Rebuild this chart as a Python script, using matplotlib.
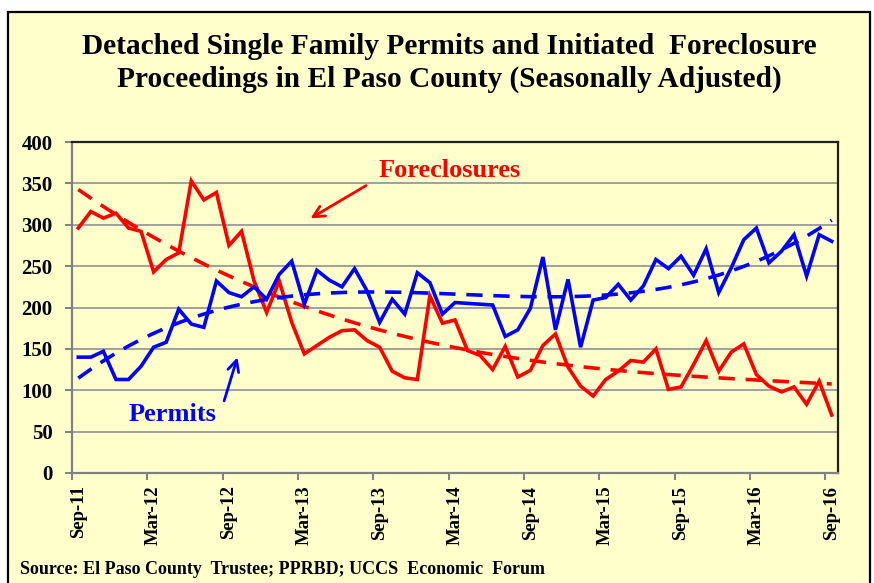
import numpy as np
import matplotlib
matplotlib.use("Agg")
import matplotlib.pyplot as plt
from matplotlib.patches import Rectangle

# monthly, Sep-11 .. Sep-16
meses = np.arange(61)
etiquetas = ["Sep-11", "Mar-12", "Sep-12", "Mar-13", "Sep-13", "Mar-14",
             "Sep-14", "Mar-15", "Sep-15", "Mar-16", "Sep-16"]

permisos = [140, 140, 147, 113, 113, 129, 152, 158, 198, 180,
            176, 232, 218, 213, 225, 210, 240, 256, 204, 245,
            233, 225, 247, 220, 182, 210, 192, 242, 230, 192,
            206, 205, 204, 203, 165, 173, 199, 261, 173, 234,
            152, 209, 212, 228, 209, 226, 258, 247, 262, 239,
            271, 218, 248, 282, 296, 254, 268, 288, 238, 288,
            280]

ejecuciones = [296, 316, 308, 314, 296, 292, 243, 258, 266, 353,
               330, 339, 275, 292, 232, 194, 232, 182, 144, 154,
               164, 172, 173, 160, 152, 123, 115, 113, 214, 181,
               185, 148, 142, 125, 153, 116, 124, 154, 168, 128,
               105, 93, 113, 123, 136, 134, 150, 101, 104, 131,
               160, 123, 146, 156, 119, 105, 98, 104, 83, 111,
               70]

plt.rcParams["font.family"] = ["Liberation Serif", "DejaVu Serif"]
plt.rcParams["font.weight"] = "bold"

fig = plt.figure(figsize=(8.74, 5.83), dpi=100, facecolor="white")
fig.patches.append(Rectangle((8 / 874, -0.02), 862 / 874, 0.02 + 571 / 583,
                             transform=fig.transFigure, facecolor="#FFFFCC",
                             edgecolor="black", lw=1.6, zorder=-10))

ax = fig.add_axes([72 / 874, 110 / 583, 766 / 874, 331 / 583])
ax.set_facecolor("none")

# trend lines (3rd order polynomial, as in the spreadsheet)
tend_p = np.polyval(np.polyfit(meses, permisos, 3), meses)
tend_e = np.polyval(np.polyfit(meses, ejecuciones, 3), meses)

ax.plot(meses, ejecuciones, color="#FF0000", lw=2.6, solid_joinstyle="miter", zorder=3)
ax.plot(meses, permisos, color="#0000FF", lw=2.6, solid_joinstyle="miter", zorder=4)
ax.plot(meses, tend_e, color="#FF0000", lw=2.6, dashes=(4.5, 3), zorder=3)
ax.plot(meses, tend_p, color="#0000FF", lw=2.6, dashes=(4.5, 3), zorder=4)

ax.set_xlim(-0.5, 60.5)
ax.set_ylim(0, 400)
ax.set_yticks(range(0, 401, 50))
ax.yaxis.grid(True, color="#A0A0A0", lw=1.4)
ax.set_axisbelow(True)
ax.tick_params(axis="y", labelsize=15, length=5, width=1.4, color="#808080", pad=9)

ax.set_xticks(np.arange(-0.5, 60, 6))
ax.set_xticklabels([])
ax.set_xticks(np.arange(0, 61, 6), minor=True)
ax.set_xticklabels(etiquetas, minor=True, rotation=90, fontsize=13.5)
ax.tick_params(axis="x", which="major", length=5, width=1.4, color="#808080")
ax.tick_params(axis="x", which="minor", length=0, pad=9)

for lado in ["left", "bottom"]:
    ax.spines[lado].set_color("#808080")
    ax.spines[lado].set_linewidth(1.6)
for lado in ["top", "right"]:
    ax.spines[lado].set_color("#202020")
    ax.spines[lado].set_linewidth(1.6)

ax.annotate("", xy=(18.3, 306), xytext=(23.1, 349),
            arrowprops=dict(arrowstyle="->", color="#FF0000", lw=2, mutation_scale=20))
ax.text(29.6, 366, "Foreclosures", color="#FF0000", fontsize=19,
        ha="center", va="center")
ax.annotate("", xy=(12.74, 143), xytext=(11.55, 84),
            arrowprops=dict(arrowstyle="->", color="#0000FF", lw=2, mutation_scale=20))
ax.text(7.54, 71, "Permits", color="#0000FF", fontsize=19,
        ha="center", va="center")

fig.text(449 / 874, 1 - 47 / 583, "Detached Single Family Permits and Initiated  Foreclosure",
         ha="center", va="center", fontsize=21.2)
fig.text(449 / 874, 1 - 79 / 583, "Proceedings in El Paso County (Seasonally Adjusted)",
         ha="center", va="center", fontsize=21.2)
fig.text(20 / 874, 1 - 570 / 583, "Source: El Paso County  Trustee; PPRBD; UCCS  Economic  Forum",
         ha="left", va="center", fontsize=13)

fig.savefig("out.png", dpi=100, facecolor="white")
plt.close(fig)
